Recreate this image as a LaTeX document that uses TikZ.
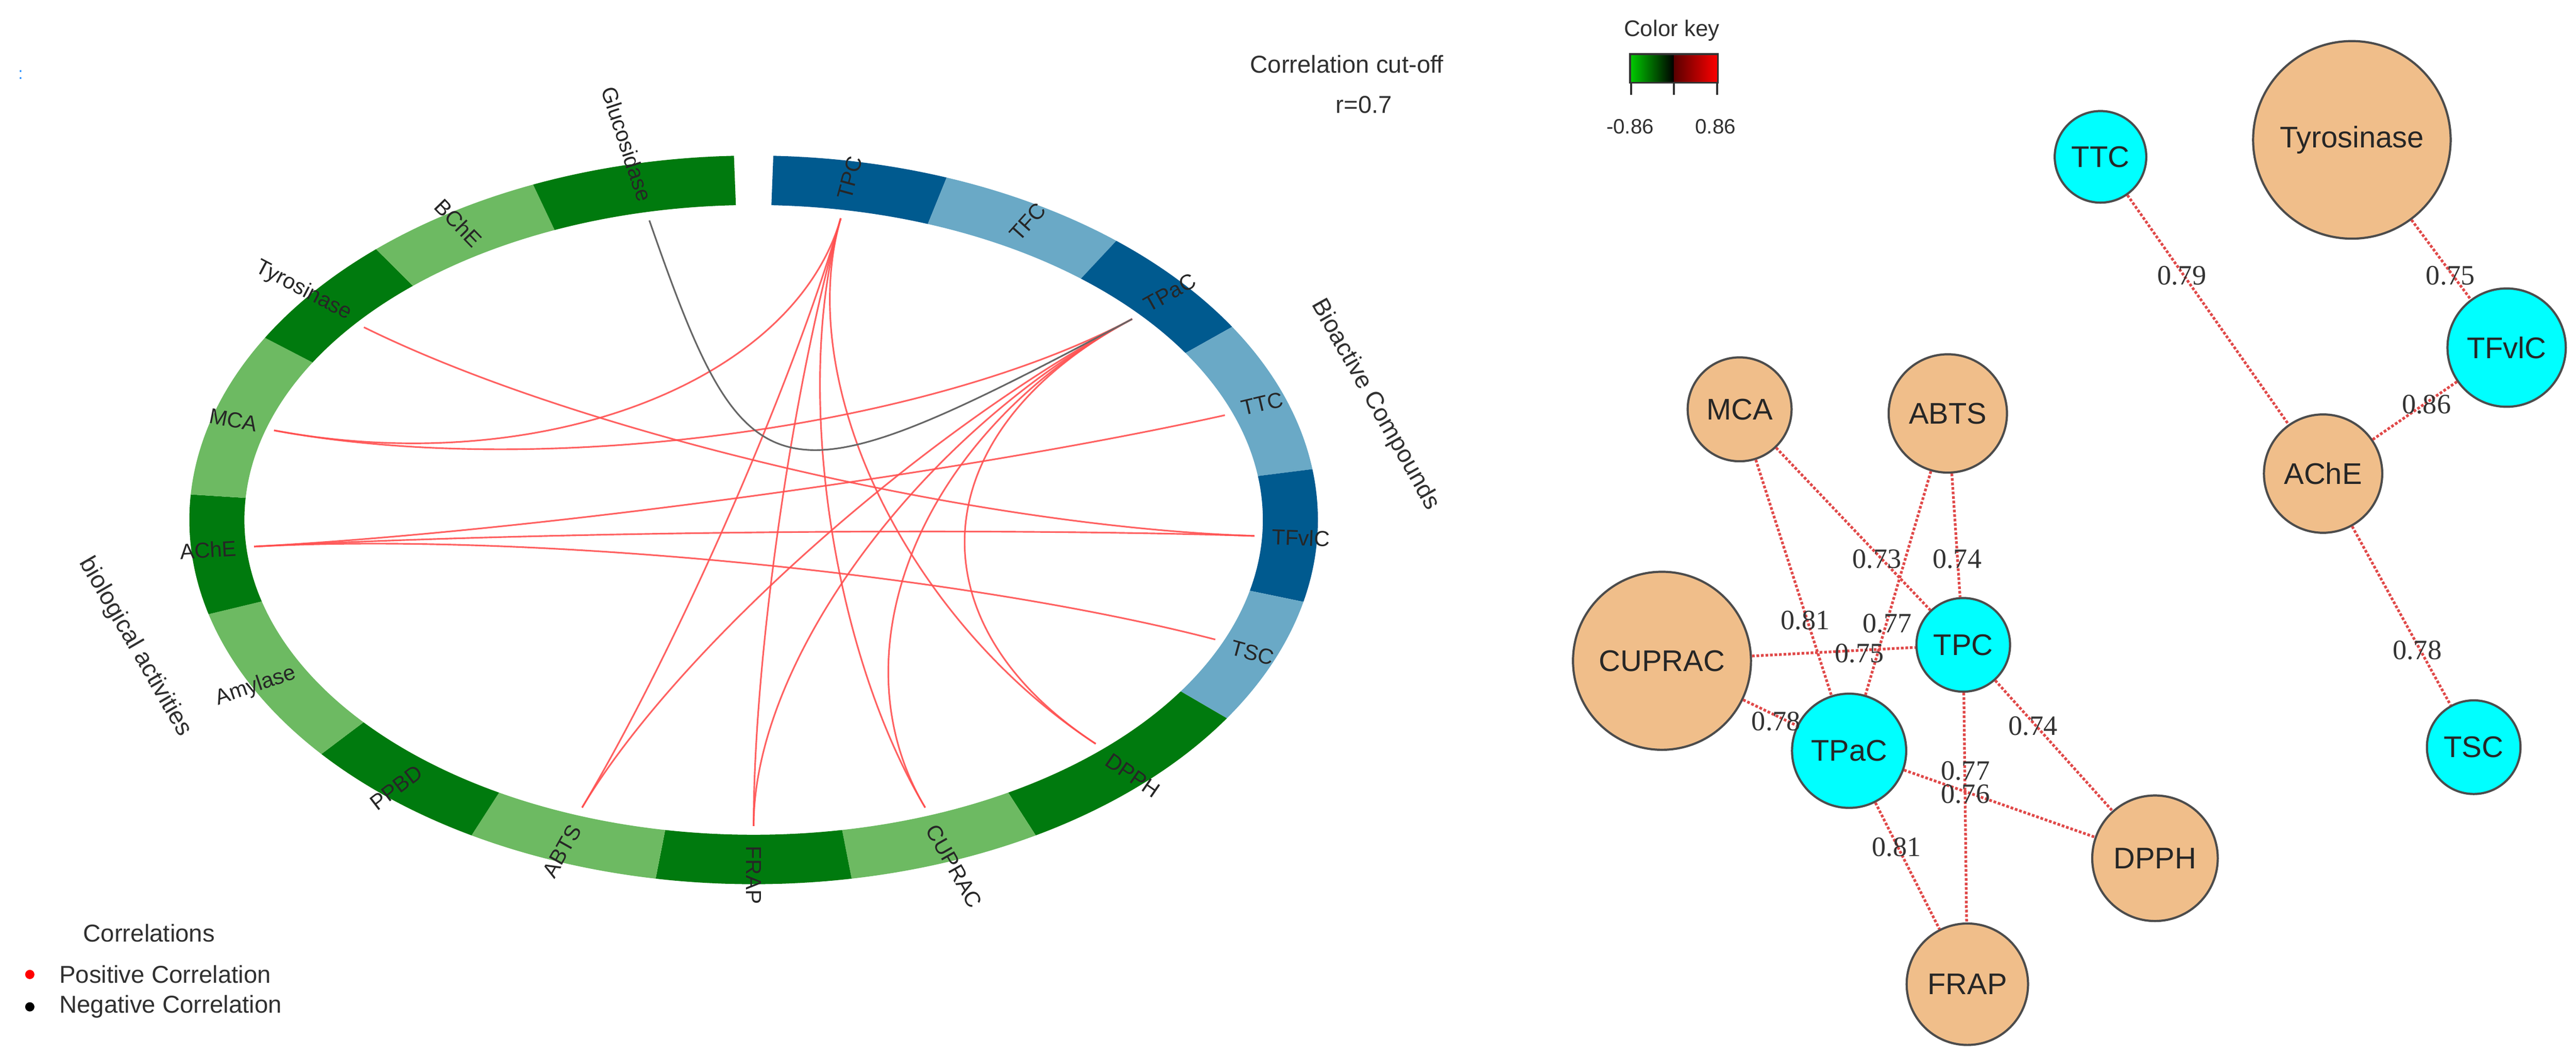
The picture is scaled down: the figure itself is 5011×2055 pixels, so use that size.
\documentclass[tikz,border=0pt]{standalone}
\usepackage{fontspec}
\setmainfont{Liberation Sans}
\newfontfamily\serifn{Liberation Serif}
\usetikzlibrary{calc}
\definecolor{dblue}{HTML}{005A8F}
\definecolor{lblue}{HTML}{6AA9C6}
\definecolor{dgreen}{HTML}{007A0E}
\definecolor{lgreen}{HTML}{6DBA62}
\definecolor{chord}{HTML}{FF5050}
\definecolor{tan}{HTML}{F0BE8A}
\definecolor{aqua}{HTML}{00FFFF}
\definecolor{txt}{HTML}{303030}
\definecolor{edge}{HTML}{E04848}
\tikzset{
  rl/.style={font=\fontsize{12}{14}\selectfont, text=black!85, inner sep=1pt},
  ttl/.style={font=\fontsize{13.5}{16}\selectfont, text=txt},
  cho/.style={chord, line width=0.9pt, opacity=0.9},
  nd/.style={circle, draw=black!70, line width=1.2pt, inner sep=0pt, font=\fontsize{16.5}{18}\selectfont, text=black!85},
  bio/.style={nd, fill=tan},
  cmp/.style={nd, fill=aqua},
  ed/.style={edge, line width=1.5pt, densely dotted},
  el/.style={font=\serifn\fontsize{15.5}{17}\selectfont, text=black!80, inner sep=0pt}
}
\newcommand\seg[3]{%
  \fill[#3] ($(C)+(#1:10.97cm and 7.08cm)$) arc[start angle=#1,end angle=#2,x radius=10.97cm,y radius=7.08cm]
    -- ($(C)+(#2:9.9cm and 6.12cm)$) arc[start angle=#2,end angle=#1,x radius=9.9cm,y radius=6.12cm] -- cycle;}
\newcommand\rlab[3]{%
  \pgfmathsetmacro\rdir{atan2(0.645*sin(#1),cos(#1))}%
  \pgfmathtruncatemacro\rleft{cos(#1)<0 ? 1 : 0}%
  \ifnum\rleft=1
    \node[rl, anchor=east, rotate=\rdir+180] (#3) at ($(C)+(#1:10.05cm and 6.3cm)$) {#2};
  \else
    \node[rl, anchor=west, rotate=\rdir] (#3) at ($(C)+(#1:10.05cm and 6.3cm)$) {#2};
  \fi}
\newcommand\cpt[2]{\coordinate (#2) at ($(C)+(#1:9.75cm and 5.95cm)$);}
\begin{document}
\begin{tikzpicture}[x=0.01cm,y=0.01cm]
\useasboundingbox (0,0) rectangle (5011,-2055);
\coordinate (C) at (1466,-1011);
% ring
\seg{88}{70}{dblue}\seg{70}{50}{lblue}\seg{50}{32}{dblue}\seg{32}{8}{lblue}
\seg{8}{-13}{dblue}\seg{-13}{-33}{lblue}
\seg{-33}{-60}{dgreen}\seg{-60}{-80}{lgreen}\seg{-80}{-100}{dgreen}\seg{-100}{-120}{lgreen}
\seg{-120}{-140}{dgreen}\seg{-140}{-165}{lgreen}\seg{-165}{-184}{dgreen}\seg{-184}{-210}{lgreen}
\seg{-210}{-228}{dgreen}\seg{-228}{-247}{lgreen}\seg{-247}{-268}{dgreen}
% labels
\rlab{80}{TPC}{lTPC}\rlab{60}{TFC}{lTFC}\rlab{41}{TPaC}{lTPaC}\rlab{20}{TTC}{lTTC}
\rlab{-3}{TFvlC}{lTFvlC}\rlab{-23}{TSC}{lTSC}\rlab{-47}{DPPH}{lDPPH}\rlab{-70}{CUPRAC}{lCUPRAC}
\rlab{-90}{FRAP}{lFRAP}\rlab{-110}{ABTS}{lABTS}\rlab{-130}{PPBD}{lPPBD}\rlab{-152}{Amylase}{lAmylase}
\rlab{-175}{AChE}{lAChE}\rlab{163}{MCA}{lMCA}\rlab{141}{Tyrosinase}{lTyr}\rlab{122}{BChE}{lBChE}
\rlab{102}{Glucosidase}{lGlu}
% chord points
\cpt{80}{pTPC}\cpt{41}{pTPaC}\cpt{20}{pTTC}\cpt{-3}{pTFvlC}\cpt{-23}{pTSC}
\cpt{-47}{pDPPH}\cpt{-70}{pCUPRAC}\cpt{-90}{pFRAP}\cpt{-110}{pABTS}
\cpt{-175}{pAChE}\cpt{163}{pMCA}\cpt{141}{pTyr}\cpt{102}{pGlu}
\foreach \a/\b in {pTTC/pAChE,pTyr/pTFvlC,pTFvlC/pAChE,pAChE/pTSC,pMCA/pTPC,pMCA/pTPaC,
  pABTS/pTPC,pABTS/pTPaC,pCUPRAC/pTPC,pCUPRAC/pTPaC,pTPC/pDPPH,pTPC/pFRAP,pTPaC/pDPPH,pTPaC/pFRAP}
  \draw[cho] (\a) .. controls ($(\a)!0.55!(C)$) and ($(\b)!0.55!(C)$) .. (\b);
\draw[black!60, line width=0.9pt] (pGlu) .. controls ($(pGlu)!0.95!(C)$) and ($(pTPaC)!0.95!(C)$) .. (pTPaC);
% titles
\node[ttl] (cut) at (2620,-125) {Correlation cut-off};
\node[ttl] (rval) at (2653,-204) {r=0.7};
\node[ttl, rotate=-60.6] (bioc) at (2675,-787) {Bioactive Compounds};
\node[ttl, rotate=-60] (bioa) at (263,-1258) {biological activities};
\node[font=\fontsize{9}{10}\selectfont, text=blue!50!cyan] (dot) at (40,-145) {:};
% legend
\node[ttl] (corr) at (290,-1815) {Correlations};
\node[ttl, anchor=west] (pos) at (103,-1895) {Positive Correlation};
\node[ttl, anchor=west] (neg) at (103,-1958) {Negative Correlation};
\fill[red] (58,-1895) circle[radius=0.09cm];
\fill[black] (58,-1958) circle[radius=0.09cm];
% color key
\node[ttl, font=\fontsize{12.5}{14}\selectfont] (ck) at (3252,-59) {Color key};
\shade[left color=green!80!black, right color=black] (3171,-105) rectangle (3256,-161);
\shade[left color=red!35!black, right color=red] (3256,-105) rectangle (3342,-161);
\draw[black!80, line width=1pt] (3171,-105) rectangle (3342,-161);
\foreach \x in {3173,3256,3340} \draw[black!80, line width=1.2pt] (\x,-161) -- (\x,-184);
\node[ttl, font=\fontsize{11.5}{13}\selectfont] (km) at (3171,-246) {-0.86};
\node[ttl, font=\fontsize{11.5}{13}\selectfont] (kp) at (3337,-246) {0.86};
% network
\node[cmp, minimum size=1.78cm] (TTC) at (4086,-305) {TTC};
\node[bio, minimum size=3.84cm] (Tyr) at (4575,-272) {Tyrosinase};
\node[cmp, minimum size=2.3cm] (TFvlC) at (4876,-676) {TFvlC};
\node[bio, minimum size=2.3cm] (AChE) at (4519,-921) {AChE};
\node[cmp, minimum size=1.82cm] (TSC) at (4812,-1453) {TSC};
\node[bio, minimum size=2.02cm] (MCA) at (3384,-796) {MCA};
\node[bio, minimum size=2.3cm] (ABTS) at (3789,-804) {ABTS};
\node[bio, minimum size=3.46cm] (CUPRAC) at (3233,-1285) {CUPRAC};
\node[cmp, minimum size=1.82cm] (TPC) at (3819,-1254) {TPC};
\node[cmp, minimum size=2.22cm] (TPaC) at (3597,-1460) {TPaC};
\node[bio, minimum size=2.44cm] (DPPH) at (4192,-1669) {DPPH};
\node[bio, minimum size=2.36cm] (FRAP) at (3827,-1914) {FRAP};
\foreach \a/\b in {TTC/AChE,Tyr/TFvlC,TFvlC/AChE,AChE/TSC,MCA/TPC,MCA/TPaC,ABTS/TPC,ABTS/TPaC,
  CUPRAC/TPC,CUPRAC/TPaC,TPC/DPPH,TPC/FRAP,TPaC/DPPH,TPaC/FRAP}
  \draw[ed] (\a) -- (\b);
\node[el] (e1) at (4244,-536) {0.79};
\node[el] (e2) at (4767,-536) {0.75};
\node[el] (e3) at (4720,-787) {0.86};
\node[el] (e4) at (4702,-1265) {0.78};
\node[el] (e5) at (3651,-1087) {0.73};
\node[el] (e6) at (3807,-1087) {0.74};
\node[el] (e7) at (3512,-1206) {0.81};
\node[el] (e8) at (3671,-1212) {0.77};
\node[el] (e9) at (3617,-1271) {0.75};
\node[el] (e10) at (3455,-1403) {0.78};
\node[el] (e11) at (3955,-1412) {0.74};
\node[el] (e12) at (3823,-1499) {0.77};
\node[el] (e13) at (3823,-1544) {0.76};
\node[el] (e14) at (3689,-1647) {0.81};
\end{tikzpicture}
\end{document}
